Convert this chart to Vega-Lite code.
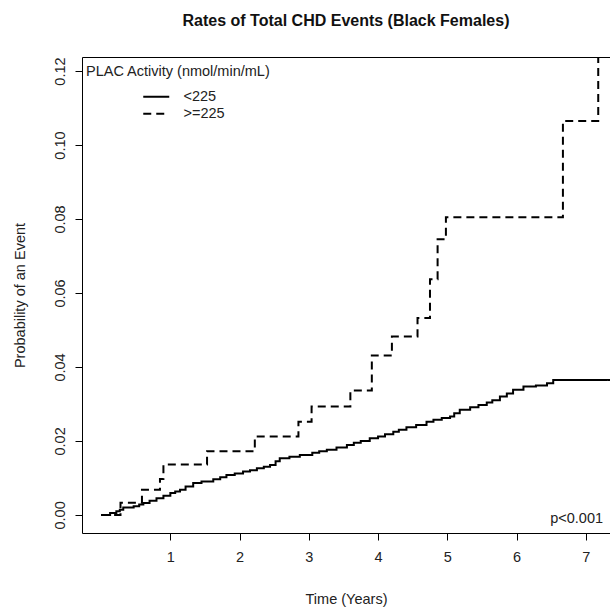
{
  "$schema": "https://vega.github.io/schema/vega-lite/v6.json",
  "width": 528,
  "height": 476,
  "autosize": {"type": "none"},
  "padding": {"left": 82, "top": 57, "right": 0, "bottom": 76},
  "background": "white",
  "title": {
    "text": "Rates of Total CHD Events (Black Females)",
    "fontSize": 16,
    "fontWeight": "bold",
    "font": "Liberation Sans",
    "color": "#111",
    "anchor": "middle",
    "baseline": "alphabetic",
    "offset": 15
  },
  "config": {
    "view": {"stroke": null},
    "font": "Liberation Sans",
    "axis": {
      "grid": false,
      "domainColor": "#000",
      "domainWidth": 1,
      "tickColor": "#000",
      "tickWidth": 1,
      "labelFont": "Liberation Sans",
      "titleFont": "Liberation Sans",
      "labelFontSize": 14.5,
      "titleFontSize": 14.5,
      "titleFontWeight": "normal",
      "labelColor": "#222",
      "titleColor": "#222"
    }
  },
  "datasets": {
    "curves": [
      {"group": "<225", "t": 0.00, "p": 0.0000},
      {"group": "<225", "t": 0.13, "p": 0.0005},
      {"group": "<225", "t": 0.22, "p": 0.0010},
      {"group": "<225", "t": 0.27, "p": 0.0014},
      {"group": "<225", "t": 0.32, "p": 0.0020},
      {"group": "<225", "t": 0.47, "p": 0.0023},
      {"group": "<225", "t": 0.55, "p": 0.0028},
      {"group": "<225", "t": 0.61, "p": 0.0032},
      {"group": "<225", "t": 0.70, "p": 0.0038},
      {"group": "<225", "t": 0.80, "p": 0.0045},
      {"group": "<225", "t": 0.90, "p": 0.0052},
      {"group": "<225", "t": 1.00, "p": 0.0059},
      {"group": "<225", "t": 1.07, "p": 0.0063},
      {"group": "<225", "t": 1.14, "p": 0.0068},
      {"group": "<225", "t": 1.22, "p": 0.0077},
      {"group": "<225", "t": 1.33, "p": 0.0086},
      {"group": "<225", "t": 1.45, "p": 0.0090},
      {"group": "<225", "t": 1.62, "p": 0.0096},
      {"group": "<225", "t": 1.72, "p": 0.0102},
      {"group": "<225", "t": 1.81, "p": 0.0108},
      {"group": "<225", "t": 1.93, "p": 0.0112},
      {"group": "<225", "t": 2.05, "p": 0.0117},
      {"group": "<225", "t": 2.15, "p": 0.0121},
      {"group": "<225", "t": 2.25, "p": 0.0126},
      {"group": "<225", "t": 2.35, "p": 0.0130},
      {"group": "<225", "t": 2.44, "p": 0.0135},
      {"group": "<225", "t": 2.52, "p": 0.0145},
      {"group": "<225", "t": 2.58, "p": 0.0153},
      {"group": "<225", "t": 2.72, "p": 0.0157},
      {"group": "<225", "t": 2.87, "p": 0.0162},
      {"group": "<225", "t": 3.05, "p": 0.0168},
      {"group": "<225", "t": 3.15, "p": 0.0172},
      {"group": "<225", "t": 3.26, "p": 0.0176},
      {"group": "<225", "t": 3.40, "p": 0.0182},
      {"group": "<225", "t": 3.55, "p": 0.0189},
      {"group": "<225", "t": 3.65, "p": 0.0195},
      {"group": "<225", "t": 3.75, "p": 0.0200},
      {"group": "<225", "t": 3.88, "p": 0.0207},
      {"group": "<225", "t": 4.00, "p": 0.0212},
      {"group": "<225", "t": 4.10, "p": 0.0218},
      {"group": "<225", "t": 4.22, "p": 0.0225},
      {"group": "<225", "t": 4.30, "p": 0.0230},
      {"group": "<225", "t": 4.41, "p": 0.0237},
      {"group": "<225", "t": 4.55, "p": 0.0243},
      {"group": "<225", "t": 4.70, "p": 0.0252},
      {"group": "<225", "t": 4.80, "p": 0.0257},
      {"group": "<225", "t": 4.92, "p": 0.0262},
      {"group": "<225", "t": 5.04, "p": 0.0266},
      {"group": "<225", "t": 5.10, "p": 0.0275},
      {"group": "<225", "t": 5.18, "p": 0.0284},
      {"group": "<225", "t": 5.33, "p": 0.0291},
      {"group": "<225", "t": 5.45, "p": 0.0297},
      {"group": "<225", "t": 5.57, "p": 0.0304},
      {"group": "<225", "t": 5.65, "p": 0.0310},
      {"group": "<225", "t": 5.76, "p": 0.0320},
      {"group": "<225", "t": 5.86, "p": 0.0328},
      {"group": "<225", "t": 5.95, "p": 0.0338},
      {"group": "<225", "t": 6.10, "p": 0.0347},
      {"group": "<225", "t": 6.28, "p": 0.0350},
      {"group": "<225", "t": 6.44, "p": 0.0356},
      {"group": "<225", "t": 6.53, "p": 0.0365},
      {"group": "<225", "t": 7.35, "p": 0.0365},
      {"group": ">=225", "t": 0.00, "p": 0.0000},
      {"group": ">=225", "t": 0.28, "p": 0.0033},
      {"group": ">=225", "t": 0.59, "p": 0.0068},
      {"group": ">=225", "t": 0.85, "p": 0.0097},
      {"group": ">=225", "t": 0.90, "p": 0.0136},
      {"group": ">=225", "t": 1.53, "p": 0.0172},
      {"group": ">=225", "t": 2.22, "p": 0.0212},
      {"group": ">=225", "t": 2.85, "p": 0.0252},
      {"group": ">=225", "t": 3.04, "p": 0.0293},
      {"group": ">=225", "t": 3.60, "p": 0.0336},
      {"group": ">=225", "t": 3.91, "p": 0.0431},
      {"group": ">=225", "t": 4.20, "p": 0.0482},
      {"group": ">=225", "t": 4.57, "p": 0.0532},
      {"group": ">=225", "t": 4.75, "p": 0.0637},
      {"group": ">=225", "t": 4.86, "p": 0.0745},
      {"group": ">=225", "t": 4.98, "p": 0.0805},
      {"group": ">=225", "t": 6.67, "p": 0.1065},
      {"group": ">=225", "t": 7.18, "p": 0.1400},
      {"group": ">=225", "t": 7.35, "p": 0.1400}
    ],
    "notes": [
      {"t": 7.25, "p": -0.0023, "label": "p<0.001"}
    ]
  },
  "layer": [
    {
      "data": {"name": "curves"},
      "mark": {"type": "line", "interpolate": "step-after", "strokeWidth": 2, "color": "#000", "clip": true},
      "encoding": {
        "x": {
          "field": "t",
          "type": "quantitative",
          "scale": {"domain": [-0.276, 7.35], "nice": false, "zero": false},
          "axis": {
            "orient": "bottom",
            "values": [1, 2, 3, 4, 5, 6, 7],
            "title": "Time (Years)",
            "tickSize": 7,
            "labelPadding": 10,
            "titlePadding": 29
          }
        },
        "y": {
          "field": "p",
          "type": "quantitative",
          "scale": {"domain": [-0.0049, 0.1238], "nice": false, "zero": false},
          "axis": {
            "values": [0, 0.02, 0.04, 0.06, 0.08, 0.1, 0.12],
            "format": ".2f",
            "title": "Probability of an Event",
            "tickSize": 7,
            "labelAngle": -90,
            "labelAlign": "center",
            "labelBaseline": "bottom",
            "labelPadding": 8,
            "titlePadding": 25
          }
        },
        "strokeDash": {
          "field": "group",
          "type": "nominal",
          "scale": {"domain": ["<225", ">=225"], "range": [[1, 0], [8, 5]]},
          "legend": {
            "orient": "none",
            "legendX": 4,
            "legendY": 8,
            "padding": 0,
            "title": "PLAC Activity (nmol/min/mL)",
            "titleLimit": 400,
            "titleFontSize": 14.5,
            "titleFontWeight": "normal",
            "titleColor": "#222",
            "titlePadding": 10,
            "labelFontSize": 14.5,
            "labelColor": "#222",
            "symbolType": "M-2.6,0H2.6",
            "symbolSize": 100,
            "symbolStrokeWidth": 2,
            "symbolStrokeColor": "#000",
            "symbolOffset": 63,
            "labelOffset": 20,
            "rowPadding": 2
          }
        }
      }
    },
    {
      "data": {"name": "notes"},
      "mark": {"type": "text", "align": "right", "baseline": "alphabetic", "fontSize": 14.5, "color": "#222", "font": "Liberation Sans"},
      "encoding": {
        "x": {
          "field": "t",
          "type": "quantitative",
          "scale": {"domain": [-0.276, 7.35], "nice": false, "zero": false},
          "axis": {"orient": "top", "labels": false, "ticks": false, "title": null, "domain": true}
        },
        "y": {"field": "p", "type": "quantitative"},
        "text": {"field": "label"}
      }
    }
  ],
  "resolve": {"axis": {"x": "independent"}}
}
